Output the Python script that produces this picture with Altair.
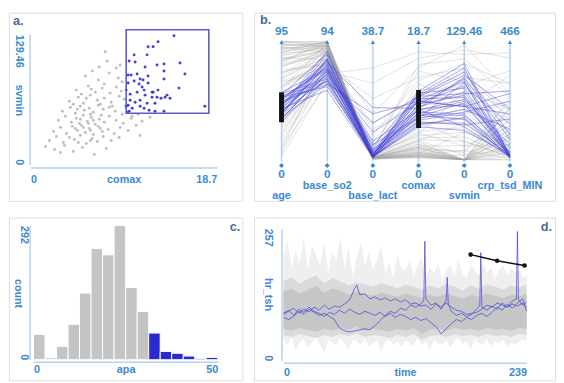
import altair as alt
import pandas as pd

FONT = "Liberation Sans"
FRAME = "#5b9bd5"
TXT = "#3a8ad0"
AXL = "#b5d2ee"
LETTER = "#4b6a9c"
BLUE = "#2f2fcf"
LINEBLUE = "#3c3cd8"

panel_letters = ["a.", "b.", "c.", "d."]

# ---------------- panel a : scatter comax vs svmin ----------------
gray_pts = [
    (7.5, 112), (7.7, 103), (8.6, 96), (9.0, 99), (6.9, 97),
    (5.5, 88), (6.8, 84), (7.9, 91), (8.8, 86), (9.2, 82), (6.2, 93), (7.4, 80),
    (4.6, 74), (5.8, 78), (6.5, 72), (7.2, 76), (8.0, 71), (8.6, 77), (9.1, 73), (5.1, 70), (6.1, 75),
    (3.9, 63), (4.8, 67), (5.3, 61), (6.0, 69), (6.7, 64), (7.4, 66), (8.1, 62), (8.9, 68), (9.4, 65),
    (5.6, 66), (7.0, 60), (4.3, 60),
    (3.2, 53), (4.0, 57), (4.5, 51), (5.0, 58), (5.4, 54), (5.9, 56), (6.3, 52), (6.8, 59), (7.3, 55),
    (7.9, 57), (8.5, 53), (9.2, 50), (10.2, 48), (10.8, 50), (6.0, 50), (4.7, 55), (8.2, 58),
    (2.8, 44), (3.5, 48), (4.1, 42), (4.6, 46), (4.9, 41), (5.3, 49), (5.7, 43), (6.1, 47), (6.5, 40),
    (6.9, 45), (7.4, 42), (7.9, 48), (8.6, 44), (9.3, 41), (10.1, 46), (11.2, 43), (12.0, 47), (5.0, 45),
    (6.3, 44), (7.1, 49), (5.8, 41),
    (2.3, 33), (3.0, 37), (3.6, 31), (4.2, 38), (4.7, 34), (5.1, 39), (5.5, 32), (5.9, 36), (6.3, 30),
    (6.8, 38), (7.2, 33), (7.8, 35), (8.4, 31), (9.0, 37), (9.8, 34), (10.6, 39), (4.5, 36), (6.0, 34),
    (5.3, 37), (7.0, 36),
    (1.9, 24), (2.6, 28), (3.3, 22), (3.9, 27), (4.4, 25), (5.0, 29), (5.6, 21), (6.2, 26), (6.7, 23),
    (7.3, 28), (8.1, 24), (8.9, 27), (11.0, 29), (4.8, 22), (6.0, 24),
    (1.5, 18), (2.4, 15), (3.4, 19), (4.3, 13), (5.2, 17), (6.4, 10), (7.6, 16), (3.0, 12),
]
blue_pts = [
    (14.4, 128), (12.8, 122), (11.8, 117), (12.3, 117), (10.4, 109), (9.9, 103), (10.5, 102), (11.7, 109),
    (12.7, 99), (13.4, 100), (15.0, 101), (11.5, 97), (15.5, 90), (13.4, 93), (9.8, 89), (10.1, 89),
    (10.7, 90), (11.8, 88), (11.0, 85), (11.3, 84), (13.4, 85), (9.8, 81), (10.4, 83), (10.9, 80),
    (9.6, 74), (10.0, 70), (10.7, 72), (11.4, 74), (11.5, 69), (12.2, 72), (12.8, 74), (14.9, 76),
    (12.2, 67), (12.7, 67), (13.1, 66), (13.5, 67), (14.0, 66), (10.0, 64), (10.5, 62), (11.0, 64),
    (11.7, 61), (12.5, 61), (9.8, 59), (9.6, 58), (10.2, 56), (11.0, 58), (11.4, 56), (11.9, 54),
    (12.5, 53), (13.4, 53), (9.9, 53), (9.7, 52), (17.5, 58), (12.3, 72), (13.7, 69), (11.8, 81), (11.2, 77),
]
brush_comax = [9.6, 17.9]
brush_svmin = [51, 134]
comax_ticks = [0, 18.7]
svmin_ticks = [0, 129.46]

# ---------------- panel b : parallel coordinates ----------------
dims = ["age", "base_so2", "base_lact", "comax", "svmin", "crp_tsd_MIN"]
dim_max = [95, 94, 38.7, 18.7, 129.46, 466]
dim_max_labels = ["95", "94", "38.7", "18.7", "129.46", "466"]
dim_min_labels = ["0", "0", "0", "0", "0", "0"]
blue_lines = [
    [32, 72, 1.2, 8.0, 60, 15], [35, 68, 0.8, 9.5, 85, 10], [38, 75, 2.0, 7.2, 48, 30],
    [40, 80, 1.5, 10.4, 100, 12], [42, 66, 3.5, 6.5, 55, 120], [44, 70, 0.5, 8.8, 70, 8],
    [45, 62, 12.0, 9.9, 92, 200], [47, 78, 1.0, 5.8, 40, 20], [48, 73, 6.0, 7.8, 66, 60],
    [50, 58, 1.8, 10.8, 105, 14], [52, 84, 2.5, 6.0, 38, 160], [53, 64, 0.9, 8.3, 74, 9],
    [34, 60, 15.0, 9.2, 58, 260], [36, 76, 1.1, 5.2, 32, 18], [39, 70, 4.5, 10.1, 96, 100],
    [41, 55, 0.7, 7.5, 50, 11], [43, 86, 1.4, 6.8, 62, 16], [46, 67, 9.0, 9.0, 80, 140],
    [49, 74, 0.6, 7.0, 44, 10], [51, 62, 2.2, 8.6, 88, 22], [37, 80, 1.3, 10.5, 78, 13],
    [33, 69, 0.8, 6.2, 52, 230], [54, 72, 3.0, 9.6, 68, 28], [31, 65, 1.0, 7.9, 36, 12],
    [44, 77, 17.0, 8.1, 90, 80], [47, 60, 0.9, 5.5, 46, 9], [42, 83, 1.6, 9.3, 58, 180],
    [50, 71, 5.0, 6.6, 84, 17], [39, 63, 1.2, 10.0, 72, 270], [36, 79, 2.8, 7.3, 64, 45],
]
gray_lines = [
    [92, 90, 2.0, 12.0, 60, 80], [88, 92, 1.0, 3.0, 40, 20], [85, 88, 0.5, 1.5, 0, 60],
    [80, 86, 3.0, 15.0, 110, 250], [95, 93, 1.5, 6.0, 20, 10], [75, 84, 0.8, 2.0, 0, 120],
    [70, 80, 10.0, 9.0, 90, 300], [65, 82, 0.6, 1.0, 30, 40], [60, 78, 1.2, 4.0, 75, 200],
    [58, 76, 20.0, 13.0, 100, 150], [25, 70, 0.4, 0.8, 10, 5], [20, 74, 1.0, 5.0, 50, 220],
    [15, 66, 6.0, 11.0, 80, 350], [10, 60, 0.7, 2.5, 0, 90], [5, 72, 2.0, 7.0, 45, 30],
    [28, 86, 0.3, 0.5, 0, 200], [62, 70, 25.0, 16.0, 120, 400], [55, 88, 1.0, 3.5, 25, 15],
    [68, 90, 0.9, 1.2, 0, 250], [78, 94, 1.8, 8.5, 65, 110], [82, 79, 0.5, 0.6, 5, 40],
    [90, 85, 3.5, 14.0, 85, 170], [12, 77, 0.8, 1.8, 0, 0], [30, 64, 8.0, 12.5, 105, 300],
    [57, 92, 0.6, 2.2, 15, 60], [72, 75, 1.4, 6.5, 55, 20], [86, 91, 0.4, 0.9, 0, 140],
    [18, 68, 30.0, 17.0, 115, 420], [66, 87, 1.1, 4.5, 35, 8], [93, 89, 0.7, 2.8, 0, 210],
    [8, 82, 1.5, 9.5, 70, 50], [76, 83, 0.3, 0.4, 0, 30], [63, 73, 12.0, 10.0, 95, 90],
    [84, 90, 0.9, 1.6, 10, 180], [22, 71, 0.5, 3.2, 20, 12], [74, 88, 2.5, 7.8, 60, 330],
    [59, 80, 0.8, 0.7, 0, 100], [89, 93, 1.2, 5.5, 45, 25], [3, 62, 0.2, 0.3, 0, 0],
    [50, 85, 15.0, 14.5, 125, 260], [80, 91, 0.6, 1.1, 0, 160], [70, 77, 1.9, 3.8, 30, 70],
    [94, 92, 0.4, 2.0, 8, 230], [26, 79, 4.0, 8.0, 88, 190], [64, 86, 0.9, 0.5, 0, 50],
    [91, 93, 0.3, 0.6, 0, 40], [87, 90, 0.5, 1.8, 0, 120], [94, 94, 0.2, 0.4, 0, 10],
    [83, 89, 0.6, 2.4, 0, 80], [89, 91, 0.4, 1.0, 0, 160], [79, 88, 0.5, 0.8, 0, 30],
    [92, 92, 0.8, 3.0, 5, 100], [86, 94, 0.3, 1.4, 0, 60], [81, 87, 0.7, 2.0, 0, 200],
    [95, 90, 0.4, 0.7, 0, 20], [77, 85, 1.0, 4.2, 15, 130], [90, 88, 0.6, 1.2, 0, 90],
]
brush_dims = [0, 3]
brush_lo = [30, 5.0]
brush_hi = [54, 11.0]

# ---------------- panel c : histogram of apa ----------------
apa_start = [0, 3.125, 6.25, 9.375, 12.5, 15.625, 18.75, 21.875, 25, 28.125, 31.25, 34.375, 37.5, 40.625, 43.75, 46.875]
apa_end = [3.125, 6.25, 9.375, 12.5, 15.625, 18.75, 21.875, 25, 28.125, 31.25, 34.375, 37.5, 40.625, 43.75, 46.875, 50]
apa_count = [55, 4, 29, 77, 145, 242, 228, 292, 157, 105, 58, 18, 14, 8, 3, 5]
apa_sel = ["no"] * 10 + ["yes"] * 6
apa_ticks = [0, 50]
count_ticks = [0, 292]

# ---------------- panel d : hr_tsh time series ----------------
t_outer = list(range(0, 240, 4)) + [239]
outer_hi = [200, 235, 180, 215, 190, 240, 175, 225, 205, 185, 230, 170, 210, 195, 240, 180, 220, 165, 200, 230,
            185, 210, 175, 195, 225, 170, 190, 160, 205, 180, 175, 195, 165, 185, 200, 160, 180, 170, 190, 155,
            175, 185, 165, 195, 170, 160, 185, 175, 165, 190, 170, 180, 160, 175, 185, 165, 180, 170, 175, 160, 170]
outer_lo = [40, 30, 45, 20, 38, 42, 25, 35, 48, 30, 15, 40, 36, 28, 45, 33, 22, 40, 38, 30,
            44, 26, 35, 40, 18, 36, 42, 30, 38, 25, 40, 35, 28, 44, 30, 38, 20, 42, 34, 30,
            40, 26, 38, 44, 32, 36, 22, 40, 35, 30, 42, 28, 38, 34, 40, 25, 36, 30, 38, 42, 36]
t_inner = list(range(0, 240, 8)) + [239]
mid_hi = [155, 162, 150, 158, 166, 150, 160, 154, 146, 152, 148, 144, 150, 146, 140, 148, 144, 138, 146, 140,
          148, 144, 136, 146, 140, 148, 144, 138, 146, 142, 148]
mid_lo = [50, 46, 52, 48, 44, 50, 46, 52, 48, 54, 46, 50, 48, 44, 50, 46, 52, 40, 48, 50,
          46, 52, 48, 50, 46, 52, 48, 50, 46, 52, 50]
inner_hi = [135, 140, 130, 138, 145, 132, 140, 136, 128, 134, 130, 126, 132, 128, 124, 130, 126, 122, 128, 124,
            130, 126, 120, 128, 124, 130, 126, 122, 128, 125, 130]
inner_lo = [62, 58, 64, 60, 56, 62, 58, 64, 60, 66, 58, 62, 60, 56, 62, 58, 64, 52, 60, 62,
            58, 64, 60, 62, 58, 64, 60, 62, 58, 64, 62]
series_a = [(0, 90), (5, 96), (10, 102), (15, 92), (20, 100), (25, 95), (30, 104), (35, 98), (40, 108), (45, 100),
            (50, 106), (55, 104), (60, 110), (65, 118), (70, 140), (72, 147), (75, 128), (80, 130), (85, 120),
            (90, 124), (95, 118), (100, 122), (105, 116), (110, 120), (115, 114), (120, 118), (125, 110),
            (130, 112), (135, 106), (140, 108), (145, 100), (150, 110), (155, 104), (160, 112), (165, 104),
            (170, 98), (175, 96), (180, 90), (185, 92), (190, 94), (195, 100), (200, 108), (205, 104),
            (210, 112), (215, 108), (220, 104), (225, 110), (230, 106), (235, 112), (239, 104)]
series_b = [(0, 84), (5, 80), (10, 86), (15, 96), (20, 90), (25, 100), (30, 94), (35, 88), (40, 92), (45, 86),
            (50, 80), (55, 64), (60, 58), (65, 56), (70, 58), (75, 60), (80, 62), (85, 60), (90, 68), (95, 78),
            (100, 88), (105, 96), (110, 92), (115, 102), (120, 98), (125, 108), (130, 104), (135, 110),
            (138, 118), (139, 232), (140, 120), (145, 108), (150, 112), (155, 100), (160, 118), (161, 162),
            (162, 110), (165, 96), (170, 88), (175, 92), (180, 86), (185, 90), (190, 100), (193, 108),
            (194, 210), (195, 104), (200, 98), (205, 106), (210, 100), (215, 112), (220, 104), (225, 116),
            (229, 120), (230, 251), (231, 118), (235, 108), (239, 114)]
series_c = [(0, 92), (5, 98), (10, 88), (15, 100), (20, 94), (25, 104), (30, 96), (35, 92), (40, 86), (45, 94),
            (50, 90), (55, 98), (60, 92), (65, 100), (70, 94), (75, 90), (80, 96), (85, 92), (90, 88), (95, 94),
            (100, 86), (105, 92), (110, 84), (115, 90), (120, 86), (125, 80), (130, 84), (135, 78), (140, 82),
            (145, 74), (150, 66), (155, 52), (160, 62), (165, 72), (170, 80), (175, 76), (180, 84), (185, 80),
            (190, 88), (195, 92), (200, 86), (205, 94), (210, 104), (215, 98), (220, 110), (225, 102),
            (230, 112), (235, 120), (239, 96)]
trend_t = [184, 210, 237]
trend_v = [206, 194, 185]
time_ticks = [0, 239]
hr_ticks = [0, 257]

# ---------------- helpers ----------------
def ax(**kw):
    d = dict(grid=False, ticks=False, tickSize=0, domainColor=AXL, domainWidth=1.5,
             labelColor=TXT, labelFont=FONT, labelFontSize=11, labelFontWeight="bold",
             titleColor=TXT, titleFont=FONT, titleFontSize=11, titleFontWeight="bold",
             labelExpr="'' + datum.value")
    d.update(kw)
    return alt.Axis(**d)


def xaxis(title, values, offset, pad, cx):
    return ax(values=values, title=title, offset=offset, labelPadding=pad, labelBaseline="middle",
              labelFlush=True, titleX=cx, titleY=pad, titleAlign="center", titleBaseline="middle")


def yaxis(title, values, offset, pad, cy, tpad=None):
    return ax(values=values, title=title, offset=offset, labelPadding=pad, labelAngle=90,
              labelBaseline="middle",
              labelAlign={"condition": {"test": "datum.value > 0", "value": "left"}, "value": "right"},
              titleAngle=90, titleX=-(tpad if tpad is not None else pad), titleY=cy,
              titleAlign="center", titleBaseline="middle")


def letter(i, x, y, align):
    return alt.Chart(pd.DataFrame({"t": [panel_letters[i]]})).mark_text(
        align=align, baseline="top", font=FONT, fontSize=13, fontWeight="bold", color=LETTER
    ).encode(x=alt.value(x), y=alt.value(y), text="t:N")


TOP_H, BOT_H = 192, 166
LEFT_W, RIGHT_W = 238, 307

# ---------------- panel a (view = frame) ----------------
xa = alt.Scale(domain=[0, 18.7], nice=False, zero=False, range=[22, 212])
ya = alt.Scale(domain=[0, 129.46], nice=False, zero=False, range=[155, 22])
df_gray = pd.DataFrame(gray_pts, columns=["comax", "svmin"])
df_blue = pd.DataFrame(blue_pts, columns=["comax", "svmin"])
df_brush = pd.DataFrame({"x1": [brush_comax[0]], "x2": [brush_comax[1]],
                         "y1": [brush_svmin[0]], "y2": [brush_svmin[1]]})

a_gray = alt.Chart(df_gray).mark_circle(size=9, color="#b4b4b4", opacity=0.85).encode(
    x=alt.X("comax:Q", scale=xa, axis=xaxis("comax", comax_ticks, -(TOP_H - 158), 12, 117)),
    y=alt.Y("svmin:Q", scale=ya, axis=yaxis("svmin", svmin_ticks, -21, 11, 89)),
)
a_blue = alt.Chart(df_blue).mark_circle(size=9, color=BLUE, opacity=0.9).encode(
    x=alt.X("comax:Q", scale=xa), y=alt.Y("svmin:Q", scale=ya))
a_box = alt.Chart(df_brush).mark_rect(fillOpacity=0, stroke="#5a5ad2", strokeWidth=1.6).encode(
    x=alt.X("x1:Q", scale=xa), x2="x2:Q", y=alt.Y("y1:Q", scale=ya), y2="y2:Q")
panel_a = alt.layer(a_gray, a_blue, a_box, letter(0, 4, 3, "left")).properties(width=LEFT_W, height=TOP_H)

# ---------------- panel b ----------------
xb = alt.Scale(domain=[0, 5], nice=False, zero=False, range=[28, 261])
yb = alt.Scale(domain=[0, 1], nice=False, zero=False, range=[150, 29])
rows = []
for grp, lines in (("gray", gray_lines), ("blue", blue_lines)):
    for i, vals in enumerate(lines):
        for k, v in enumerate(vals):
            rows.append({"id": f"{grp}{i}", "k": k, "norm": v / dim_max[k], "grp": grp})
df_lines = pd.DataFrame(rows)
df_dims = pd.DataFrame({"k": list(range(6)), "name": dims, "top": dim_max_labels, "bottom": dim_min_labels})
df_bb = pd.DataFrame({"k": brush_dims,
                      "lo": [brush_lo[j] / dim_max[brush_dims[j]] for j in range(2)],
                      "hi": [brush_hi[j] / dim_max[brush_dims[j]] for j in range(2)]})

bx = alt.X("k:Q", scale=xb, axis=None)
b_axes = alt.Chart(df_dims).mark_rule(color=AXL, strokeWidth=1.5).encode(
    x=bx, y=alt.value(29), y2=alt.value(152))
b_gray = alt.Chart(df_lines).transform_filter("datum.grp == 'gray'").mark_line(
    color="#a0a0a0", opacity=0.3, strokeWidth=1).encode(
    x=bx, y=alt.Y("norm:Q", scale=yb, axis=None), detail="id:N", order="k:Q")
b_blue = alt.Chart(df_lines).transform_filter("datum.grp == 'blue'").mark_line(
    color=LINEBLUE, opacity=0.45, strokeWidth=1).encode(
    x=bx, y=alt.Y("norm:Q", scale=yb, axis=None), detail="id:N", order="k:Q")
b_brush = alt.Chart(df_bb).mark_rule(color="#111111", strokeWidth=5).encode(
    x=bx, y=alt.Y("lo:Q", scale=yb, axis=None), y2="hi:Q")
b_tri = alt.Chart(df_dims).mark_point(shape="triangle-up", filled=True, size=18, color=TXT, opacity=1).encode(
    x=bx, y=alt.value(30))
b_dia = alt.Chart(df_dims).mark_point(shape="diamond", filled=True, size=26, color=TXT, opacity=1).encode(
    x=bx, y=alt.value(156))
tstyle = dict(font=FONT, fontSize=11, fontWeight="bold", color=TXT, baseline="middle")
b_top = alt.Chart(df_dims).mark_text(**dict(tstyle, fontSize=12)).encode(x=bx, y=alt.value(19), text="top:N")
b_bot = alt.Chart(df_dims).mark_text(**dict(tstyle, fontSize=12)).encode(x=bx, y=alt.value(165), text="bottom:N")
b_name_hi = alt.Chart(df_dims).transform_filter("datum.k % 2 == 1").mark_text(**tstyle).encode(
    x=bx, y=alt.value(177), text="name:N")
b_name_lo = alt.Chart(df_dims).transform_filter("datum.k % 2 == 0").mark_text(**tstyle).encode(
    x=bx, y=alt.value(187), text="name:N")
panel_b = alt.layer(b_axes, b_gray, b_blue, b_brush, b_tri, b_dia,
                    b_top, b_bot, b_name_hi, b_name_lo,
                    letter(1, 6, 2, "left")).properties(width=RIGHT_W, height=TOP_H)

# ---------------- panel c ----------------
xc = alt.Scale(domain=[0, 50], nice=False, zero=False, range=[25, 213])
yc = alt.Scale(domain=[0, 292], nice=False, zero=False, range=[145, 8])
df_hist = pd.DataFrame({"start": apa_start, "end": apa_end, "count": apa_count, "sel": apa_sel})
c_bars = alt.Chart(df_hist).mark_rect(stroke="white", strokeWidth=1).encode(
    x=alt.X("start:Q", scale=xc, axis=xaxis("apa", apa_ticks, -(BOT_H - 147), 8, 119)),
    x2="end:Q",
    y=alt.Y("count:Q", scale=yc, axis=yaxis("count", count_ticks, -21, 6, 77, tpad=12)),
    y2=alt.datum(0),
    color=alt.Color("sel:N", scale=alt.Scale(domain=["no", "yes"], range=["#c4c4c4", "#2a2ad0"]), legend=None),
)
panel_c = alt.layer(c_bars, letter(2, 236, 4, "right")).properties(width=LEFT_W, height=BOT_H)

# ---------------- panel d ----------------
xd = alt.Scale(domain=[0, 239], nice=False, zero=False, range=[30, 278])
yd = alt.Scale(domain=[0, 257], nice=False, zero=False, range=[146, 11])
df_outer = pd.DataFrame({"t": t_outer, "lo": outer_lo, "hi": outer_hi})
df_mid = pd.DataFrame({"t": t_inner, "lo": mid_lo, "hi": mid_hi})
df_inner = pd.DataFrame({"t": t_inner, "lo": inner_lo, "hi": inner_hi})
srows = []
for name, ser in (("s1", series_a), ("s2", series_b), ("s3", series_c)):
    for t, v in ser:
        srows.append({"s": name, "t": t, "v": v})
df_series = pd.DataFrame(srows)
df_trend = pd.DataFrame({"t": trend_t, "v": trend_v})

d_outer = alt.Chart(df_outer).mark_area(color="#e8e8e8", opacity=0.7).encode(
    x=alt.X("t:Q", scale=xd, axis=xaxis("time", time_ticks, -(BOT_H - 148), 10, 154)),
    y=alt.Y("lo:Q", scale=yd, axis=yaxis("hr_tsh", hr_ticks, -28, 14, 78)),
    y2="hi:Q")
d_mid = alt.Chart(df_mid).mark_area(color="#d4d4d4", opacity=0.8).encode(
    x=alt.X("t:Q", scale=xd), y=alt.Y("lo:Q", scale=yd), y2="hi:Q")
d_inner = alt.Chart(df_inner).mark_area(color="#c2c2c2", opacity=0.85).encode(
    x=alt.X("t:Q", scale=xd), y=alt.Y("lo:Q", scale=yd), y2="hi:Q")
d_lines = alt.Chart(df_series).mark_line(color="#4444dd", opacity=0.75, strokeWidth=1).encode(
    x=alt.X("t:Q", scale=xd), y=alt.Y("v:Q", scale=yd), detail="s:N", order="t:Q")
d_trend = alt.Chart(df_trend).mark_line(color="#111111", strokeWidth=1.5,
                                       point=alt.OverlayMarkDef(filled=True, size=22, color="#111111")).encode(
    x=alt.X("t:Q", scale=xd), y=alt.Y("v:Q", scale=yd))
panel_d = alt.layer(d_outer, d_mid, d_inner, d_lines, d_trend,
                    letter(3, 304, 4, "right")).properties(width=RIGHT_W, height=BOT_H)

chart = alt.vconcat(
    alt.hconcat(panel_a, panel_b, spacing=10),
    alt.hconcat(panel_c, panel_d, spacing=10),
    spacing=15,
).properties(padding=0).configure_view(stroke=FRAME, strokeWidth=2).configure(font=FONT)

chart.save("out.html", embed_options={"renderer": "svg", "actions": False})
